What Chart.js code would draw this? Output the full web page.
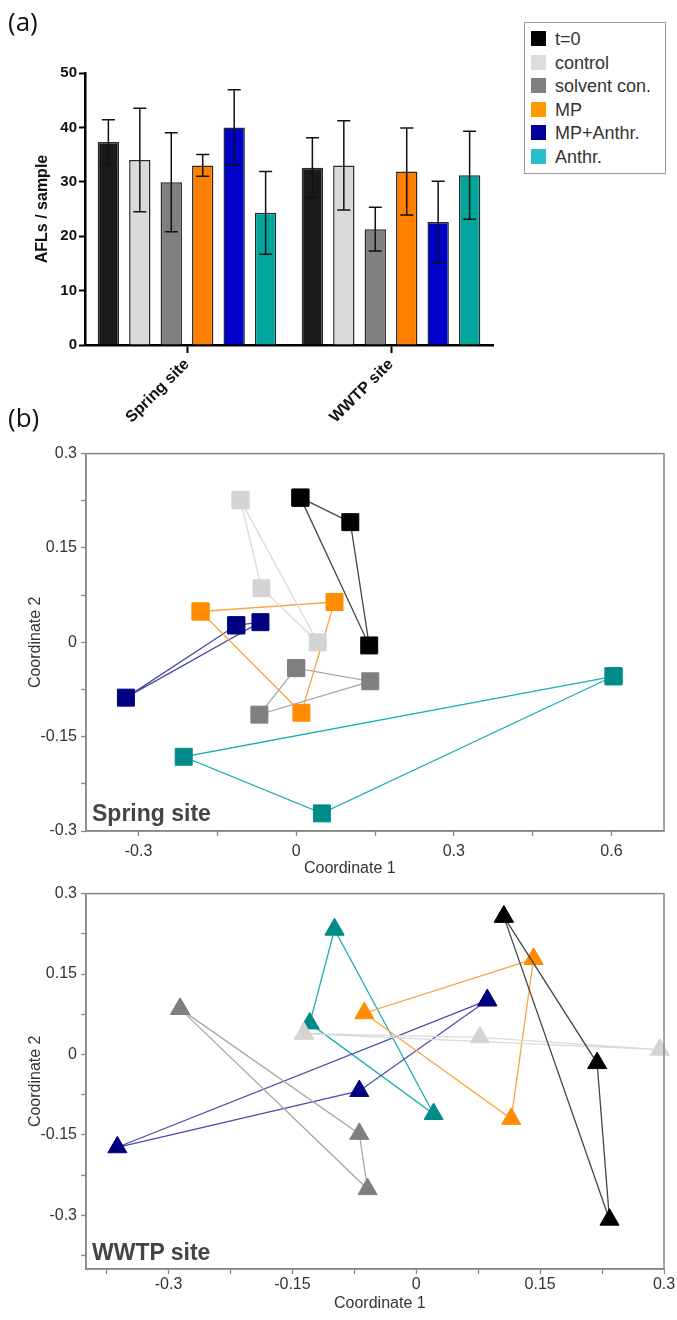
<!DOCTYPE html>
<html><head><meta charset="utf-8">
<script src="https://cdn.jsdelivr.net/npm/chart.js@4.4.1/dist/chart.umd.min.js"></script>
<style>
html,body{margin:0;padding:0;background:#fff;}
#page{position:relative;width:677px;height:1320px;overflow:hidden;font-family:'Liberation Sans',Arial,sans-serif;background:#fff;}
canvas{position:absolute;left:0;}
.lbl{position:absolute;white-space:nowrap;line-height:1;}
#legend{position:absolute;left:524px;top:22px;width:140px;height:150px;border:1.5px solid #9a9a9a;background:#fff;}
.li{position:absolute;left:6px;height:24px;font-size:18px;color:#333;line-height:24px;}
.li span.sw{position:absolute;left:0;top:4px;width:15px;height:15px;}
.li span.tx{position:absolute;left:24px;top:0;white-space:nowrap;}
</style></head><body>
<div id="page">
<canvas id="bar" width="520" height="440" style="top:0"></canvas>
<canvas id="sp" width="677" height="440" style="top:440px"></canvas>
<canvas id="ww" width="677" height="440" style="top:880px"></canvas>
<div class="lbl" style="left:8px;top:8px;font-size:26px;font-family:'Open Sans';color:#111">(a)</div>
<div class="lbl" style="left:8px;top:404px;font-size:26px;font-family:'Open Sans';color:#111">(b)</div>
<div class="lbl" style="left:92px;top:802px;font-size:23px;font-weight:bold;color:#444">Spring site</div>
<div class="lbl" style="left:92px;top:1241px;font-size:23px;font-weight:bold;color:#444">WWTP site</div>
<div class="lbl" id="c1a" style="top:860px;font-size:16px;color:#333">Coordinate 1</div>
<div class="lbl" id="c1b" style="top:1295px;font-size:16px;color:#333">Coordinate 1</div>
<div id="legend"></div>
</div>
<script>
// ---------- Panel (a): bar chart data ----------
const sites = ['Spring site', 'WWTP site'];
const treatments = ['t=0', 'control', 'solvent con.', 'MP', 'MP+Anthr.', 'Anthr.'];
const afl_t0 = [37.3, 32.6];        const sd_t0 = [4.1, 5.5];
const afl_control = [34.0, 33.0];   const sd_control = [9.5, 8.2];
const afl_solvent = [29.9, 21.3];   const sd_solvent = [9.1, 4.0];
const afl_MP = [33.0, 31.9];        const sd_MP = [2.0, 8.0];
const afl_MPAnthr = [40.0, 22.6];   const sd_MPAnthr = [6.9, 7.5];
const afl_Anthr = [24.3, 31.2];     const sd_Anthr = [7.6, 8.1];
const barYTicks = [0, 10, 20, 30, 40, 50];

// ---------- Panel (b): PCoA coordinates [coord1, coord2] ----------
const spring_t0 = [[0.008, 0.230], [0.103, 0.191], [0.139, -0.005]];
const spring_control = [[-0.106, 0.226], [-0.066, 0.086], [0.041, 0.000]];
const spring_solvent = [[0.000, -0.041], [0.141, -0.062], [-0.070, -0.115]];
const spring_MP = [[-0.182, 0.049], [0.073, 0.064], [0.010, -0.112]];
const spring_MPAnthr = [[-0.114, 0.027], [-0.068, 0.032], [-0.324, -0.088]];
const spring_Anthr = [[0.604, -0.054], [-0.214, -0.182], [0.049, -0.272]];

const wwtp_t0 = [[0.106, 0.257], [0.219, -0.016], [0.234, -0.308]];
const wwtp_control = [[-0.136, 0.039], [0.077, 0.032], [0.295, 0.009]];
const wwtp_solvent = [[-0.286, 0.085], [-0.069, -0.148], [-0.059, -0.251]];
const wwtp_MP = [[0.142, 0.178], [-0.063, 0.077], [0.115, -0.120]];
const wwtp_MPAnthr = [[0.086, 0.101], [-0.069, -0.068], [-0.362, -0.173]];
const wwtp_Anthr = [[-0.099, 0.233], [-0.129, 0.058], [0.021, -0.111]];

const springXTicks = [-0.3, -0.15, 0, 0.15, 0.3, 0.45, 0.6];
const springXLabels = ['-0.3', '', '0', '', '0.3', '', '0.6'];
const springYTicks = [-0.3, -0.225, -0.15, -0.075, 0, 0.075, 0.15, 0.225, 0.3];
const springYLabels = ['-0.3', '', '-0.15', '', '0', '', '0.15', '', '0.3'];
const wwtpXTicks = [-0.375, -0.3, -0.225, -0.15, -0.075, 0, 0.075, 0.15, 0.225, 0.3];
const wwtpXLabels = ['', '-0.3', '', '-0.15', '', '0', '', '0.15', '', '0.3'];
const wwtpYTicks = [-0.375, -0.3, -0.225, -0.15, -0.075, 0, 0.075, 0.15, 0.225, 0.3];
const wwtpYLabels = ['', '-0.3', '', '-0.15', '', '0', '', '0.15', '', '0.3'];

// ---------- styles ----------
const barColors = ['#1a1a1a', '#d9d9d9', '#808080', '#ff8000', '#0000cc', '#00a59c'];
const legendColors = ['#000000', '#dcdcdc', '#808080', '#ff9900', '#000099', '#29c0cc'];
const markerColors = ['#000000', '#d4d4d4', '#7f7f7f', '#ff8c00', '#000080', '#008b8b'];
const lineColors = ['#454545', '#d9d9d9', '#a8a8a8', '#f5a742', '#4b4bab', '#1aafb0'];

Chart.defaults.font.family = "'Liberation Sans', Arial, sans-serif";
Chart.defaults.animation = false;
Chart.defaults.devicePixelRatio = 1;

// legend (HTML)
const lg = document.getElementById('legend');
treatments.forEach((t, i) => {
  const d = document.createElement('div');
  d.className = 'li';
  d.style.top = (4 + i * 23.5) + 'px';
  d.innerHTML = '<span class="sw" style="background:' + legendColors[i] + '"></span><span class="tx">' + t + '</span>';
  lg.appendChild(d);
});

// error bars plugin
const errorBars = {
  id: 'errorBars',
  afterDatasetsDraw(chart) {
    const ctx = chart.ctx, ys = chart.scales.y;
    chart.data.datasets.forEach((ds, i) => {
      const meta = chart.getDatasetMeta(i);
      meta.data.forEach((bar, j) => {
        const m = ds.data[j], e = ds.errors[j];
        const yt = ys.getPixelForValue(m + e), yb = ys.getPixelForValue(m - e);
        ctx.save();
        ctx.strokeStyle = '#111'; ctx.lineWidth = 1.5;
        ctx.beginPath();
        ctx.moveTo(bar.x, yt); ctx.lineTo(bar.x, yb);
        ctx.moveTo(bar.x - 6.5, yt); ctx.lineTo(bar.x + 6.5, yt);
        ctx.moveTo(bar.x - 6.5, yb); ctx.lineTo(bar.x + 6.5, yb);
        ctx.stroke();
        ctx.restore();
      });
    });
  }
};

const means = [afl_t0, afl_control, afl_solvent, afl_MP, afl_MPAnthr, afl_Anthr];
const sds = [sd_t0, sd_control, sd_solvent, sd_MP, sd_MPAnthr, sd_Anthr];

new Chart(document.getElementById('bar'), {
  type: 'bar',
  data: {
    labels: sites,
    datasets: treatments.map((t, i) => ({
      label: t, data: means[i], errors: sds[i],
      backgroundColor: barColors[i], borderColor: '#2a2a2a', borderWidth: 1.5,
      barPercentage: 0.68, categoryPercentage: 0.925
    }))
  },
  options: {
    responsive: false,
    layout: { padding: { top: 73, right: 27, left: 0, bottom: 0 } },
    plugins: { legend: { display: false }, tooltip: { enabled: false } },
    scales: {
      x: {
        offset: true,
        grid: { drawOnChartArea: false, offset: false, tickLength: 8, tickWidth: 2, color: '#000' },
        border: { color: '#000', width: 2.5 },
        ticks: { minRotation: 45, maxRotation: 45, padding: 2, color: '#111', font: { size: 16, weight: 'bold' } },
        afterFit(s) { s.height = 95; }
      },
      y: {
        min: 0, max: 50,
        afterBuildTicks(s) { s.ticks = barYTicks.map(v => ({ value: v })); },
        grid: { drawOnChartArea: false, tickLength: 6, tickWidth: 2, color: '#000' },
        border: { color: '#000', width: 2.5 },
        ticks: { padding: 2, color: '#111', font: { size: 15, weight: 'bold' } },
        title: { display: true, text: 'AFLs / sample', color: '#111', font: { size: 16, weight: 'bold' }, padding: { top: 33, bottom: 0 } },
        afterFit(s) { s.width = 85; }
      }
    }
  },
  plugins: [errorBars]
});

// frame plugin for scatter panels
const frame = {
  id: 'frame',
  afterDraw(chart) {
    const a = chart.chartArea, ctx = chart.ctx;
    ctx.save(); ctx.strokeStyle = '#888'; ctx.lineWidth = 1.5;
    ctx.strokeRect(a.left, a.top, a.right - a.left, a.bottom - a.top);
    ctx.restore();
  }
};

function toXY(arr) { const p = arr.map(q => ({ x: q[0], y: q[1] })); return p.concat([p[0]]); }

function scatterChart(id, groups, shape, radius, cfg) {
  return new Chart(document.getElementById(id), {
    type: 'scatter',
    data: {
      datasets: groups.map((g, i) => ({
        label: treatments[i], data: toXY(g), showLine: true, tension: 0, fill: false,
        borderColor: lineColors[i], borderWidth: 1.3,
        pointStyle: shape, pointRadius: radius, pointHoverRadius: radius,
        pointBackgroundColor: markerColors[i], pointBorderColor: markerColors[i], pointBorderWidth: 1,
        clip: false
      }))
    },
    options: {
      responsive: false,
      layout: { padding: { top: cfg.top, right: 13, left: 0, bottom: 0 } },
      plugins: { legend: { display: false }, tooltip: { enabled: false } },
      scales: {
        x: {
          type: 'linear', min: cfg.xmin, max: cfg.xmax,
          afterBuildTicks(s) { s.ticks = cfg.xt.map(v => ({ value: v })); },
          grid: { drawOnChartArea: false, tickLength: 5, tickWidth: 1.3, color: '#888' },
          border: { color: '#888', width: 1.5 },
          ticks: { padding: cfg.xpad, color: '#333', font: { size: 16 }, maxRotation: 0, autoSkip: false,
                   callback: (v, i) => cfg.xl[i] },
          afterFit(s) { s.height = cfg.xh; }
        },
        y: {
          type: 'linear', min: cfg.ymin, max: cfg.ymax,
          afterBuildTicks(s) { s.ticks = cfg.yt.map(v => ({ value: v })); },
          grid: { drawOnChartArea: false, tickLength: 5, tickWidth: 1.3, color: '#888' },
          border: { color: '#888', width: 1.5 },
          ticks: { padding: 4, color: '#333', font: { size: 16 }, autoSkip: false,
                   callback: (v, i) => cfg.yl[i] },
          title: { display: true, text: 'Coordinate 2', color: '#333', font: { size: 16 }, padding: { top: 26, bottom: 0 } },
          afterFit(s) { s.width = 86; }
        }
      }
    },
    plugins: [frame]
  });
}

scatterChart('sp', [spring_t0, spring_control, spring_solvent, spring_MP, spring_MPAnthr, spring_Anthr], 'rect', 12,
  { top: 11, xmin: -0.4, xmax: 0.7, ymin: -0.3, ymax: 0.3, xt: springXTicks, xl: springXLabels,
    yt: springYTicks, yl: springYLabels, xh: 49, xpad: 6 });
scatterChart('ww', [wwtp_t0, wwtp_control, wwtp_solvent, wwtp_MP, wwtp_MPAnthr, wwtp_Anthr], 'triangle', 11,
  { top: 8, xmin: -0.4, xmax: 0.3, ymin: -0.4, ymax: 0.3, xt: wwtpXTicks, xl: wwtpXLabels,
    yt: wwtpYTicks, yl: wwtpYLabels, xh: 51, xpad: 1 });

// x-axis titles positioned (centered near x=350 / x=380)
function centerAt(id, cx) { const el = document.getElementById(id); el.style.left = (cx - el.offsetWidth / 2) + 'px'; }
centerAt('c1a', 350); centerAt('c1b', 380);
</script>
</body></html>
